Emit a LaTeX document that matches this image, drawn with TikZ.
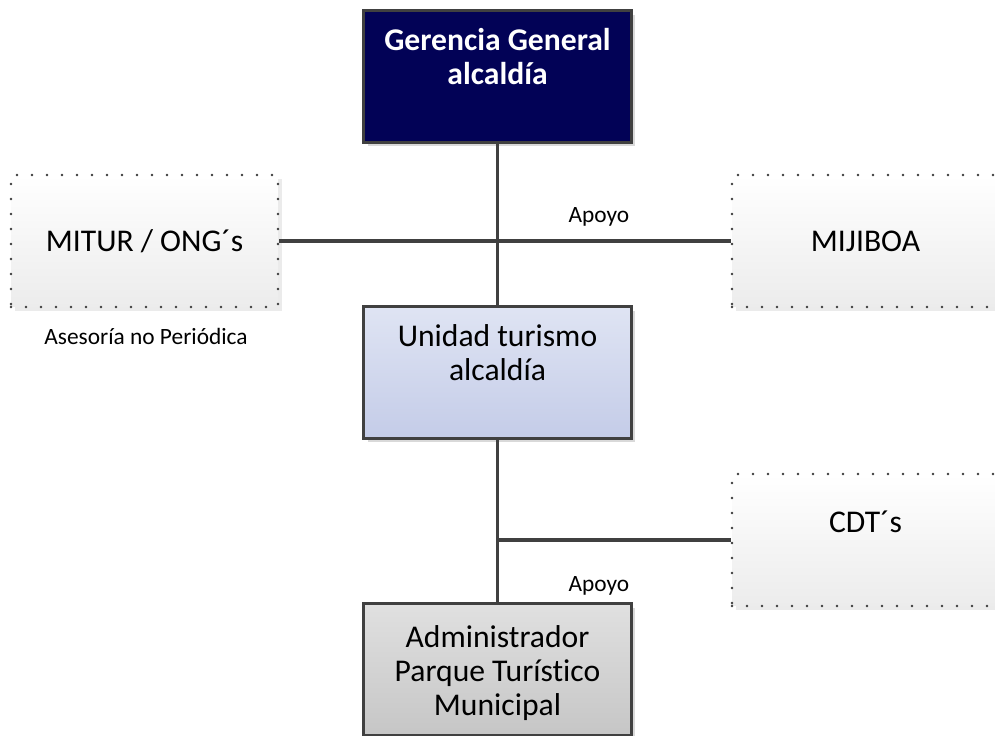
\documentclass[tikz,border=0pt]{standalone}
\usepackage{fontspec}
\setmainfont{Carlito}[Ligatures=NoCommon]
\usetikzlibrary{shadows}

\definecolor{navy}{RGB}{2,2,86}
\definecolor{linegray}{RGB}{64,64,64}
\definecolor{dotgray}{RGB}{60,60,60}
\definecolor{bluetop}{RGB}{223,228,243}
\definecolor{bluebot}{RGB}{196,204,232}
\definecolor{graytop}{RGB}{224,224,224}
\definecolor{graybot}{RGB}{198,198,198}
\definecolor{palebot}{RGB}{236,236,236}

\newcommand\boxfont{\fontsize{18}{19.5}\selectfont}
\newcommand\lblfont{\fontsize{13.3}{15}\selectfont}

\tikzset{
  orgbox/.style={draw=linegray, line width=1.7pt, minimum width=5.36cm, minimum height=2.64cm,
    drop shadow={shadow xshift=0.08cm, shadow yshift=-0.08cm, fill=black!15, opacity=1}},
  dotbox/.style={draw=dotgray, line width=1.6pt, line cap=round, dash pattern=on 0pt off 0.3cm,
    top color=white, bottom color=palebot, minimum width=5.34cm, minimum height=2.64cm,
    font=\boxfont,
    drop shadow={shadow xshift=0.08cm, shadow yshift=-0.08cm, fill=black!8, opacity=1}},
  boxtext/.style={anchor=north, align=center, inner sep=0pt, font=\boxfont},
  lbl/.style={inner sep=0pt, font=\lblfont},
  conn/.style={draw=linegray, line width=2.1pt}
}

\begin{document}
\begin{tikzpicture}[x=0.02cm, y=-0.02cm]
\useasboundingbox (0,0) rectangle (995,736);

% cajas principales
\node[orgbox, fill=navy] (ger) at (497.5,76.5) {};
\node[boxtext, text=white, font=\boxfont\bfseries] (gertxt) at ([yshift=-0.38cm]ger.north) {Gerencia General\\alcaldía};

\node[orgbox, top color=bluetop, bottom color=bluebot] (uni) at (497.5,372.5) {};
\node[boxtext] (unitxt) at ([yshift=-0.38cm]uni.north) {Unidad turismo\\alcaldía};

\node[orgbox, top color=graytop, bottom color=graybot] (adm) at (497.5,669.5) {};
\node[boxtext] (admtxt) at ([yshift=-0.46cm]adm.north) {Administrador\\Parque Turístico\\Municipal};

% apoyos externos
\node[dotbox] (mitur) at (144.5,241) {MITUR / ONG´s};
\node[dotbox] (mijiboa) at (865.5,241) {MIJIBOA};
\node[dotbox] (cdt) at (865.5,540) {};
\node[boxtext, anchor=center] (cdttxt) at ([yshift=0.36cm]cdt.center) {CDT´s};

% conectores
\draw[conn] (ger.south) -- (uni.north);
\draw[conn] (mitur.east) -- (mijiboa.west);
\draw[conn] (uni.south) -- (adm.north);
\draw[conn] (uni.south |- cdt.west) -- (cdt.west);

% etiquetas
\node[lbl] (apoyoa) at (599,217) {Apoyo};
\node[lbl] (apoyob) at (599,586) {Apoyo};
\node[lbl] (asesoria) at (146,336) {Asesoría no Periódica};
\end{tikzpicture}
\end{document}
